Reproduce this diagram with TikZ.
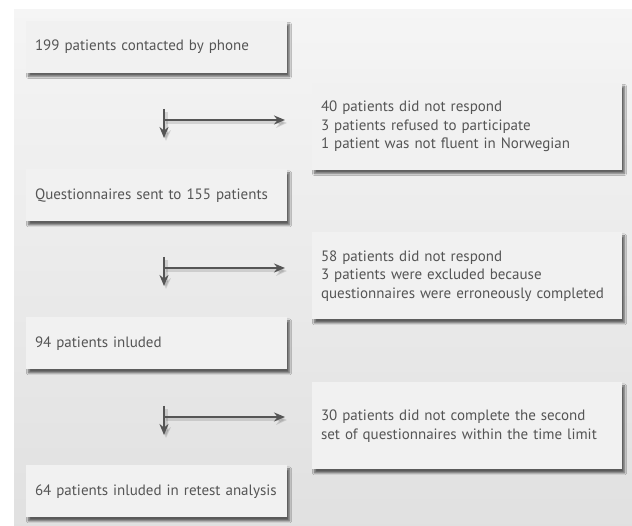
\documentclass[tikz,border=0pt]{standalone}
\usepackage{fontspec}
\setmainfont{PT Sans}
\usetikzlibrary{arrows.meta,shadows.blur}
\definecolor{txtgray}{HTML}{555555}
\definecolor{arrgray}{HTML}{555555}
\definecolor{boxfill}{HTML}{F1F1F1}
\tikzset{
  stepbox/.style={rectangle,fill=boxfill,inner xsep=9pt,inner ysep=0pt,
    minimum height=52pt,text width=243pt,align=left,text=txtgray,
    font=\fontsize{15}{18.7}\selectfont,
    blur shadow={shadow xshift=2.5pt,shadow yshift=-3.5pt,shadow blur steps=6,shadow opacity=60}},
  outbox/.style={stepbox,minimum height=87pt,text width=292pt},
  flow/.style={draw=arrgray,line width=2pt,-{Stealth[length=11pt,width=9pt]}},
  flowshadow/.style={draw=black,opacity=0.12,line width=3pt,-{Stealth[length=11pt,width=10pt]}}
}
\begin{document}
\begin{tikzpicture}[x=1pt,y=1pt]
\useasboundingbox (0,0) rectangle (632,526);
% background
\fill[white] (0,0) rectangle (632,526);
\shade[top color=black!4,bottom color=black!12] (14,0) rectangle (632,516);

% flow boxes (left column)
\node[stepbox] (contact) at (156.5,479) {199 patients contacted by phone};
\node[stepbox] (sent)    at (156.5,330.5) {Questionnaires sent to 155 patients};
\node[stepbox] (incl)    at (156.5,182.5) {94 patients inluded};
\node[stepbox] (retest)  at (156.5,34.5) {64 patients inluded in retest analysis};

% excluded boxes (right column)
\node[outbox] (ex1) at (467,399.5) {40 patients did not respond\\3 patients refused to participate\\1 patient was not fluent in Norwegian};
\node[outbox] (ex2) at (467,250) {58 patients did not respond\\3 patients were excluded because\\questionnaires were erroneously completed};
\node[outbox] (ex3) at (467,100) {30 patients did not complete the second\\set of questionnaires within the time limit};

% arrow points
\foreach \i/\y in {1/417,2/269,3/120}{
  \coordinate (top\i) at (164,\y);
  \coordinate (down\i) at (164,\y-29);
  \coordinate (turn\i) at (164,\y-11);
  \coordinate (right\i) at (285,\y-11);
}

% arrows
\foreach \i in {1,2,3}{
  \draw[flowshadow] ([shift={(2pt,-3pt)}]top\i) -- ([shift={(2pt,-3pt)}]down\i);
  \draw[flowshadow] ([shift={(2pt,-3pt)}]turn\i) -- ([shift={(2pt,-3pt)}]right\i);
  \draw[flow] (top\i) -- (down\i);
  \draw[flow] (turn\i) -- (right\i);
}

\end{tikzpicture}
\end{document}
